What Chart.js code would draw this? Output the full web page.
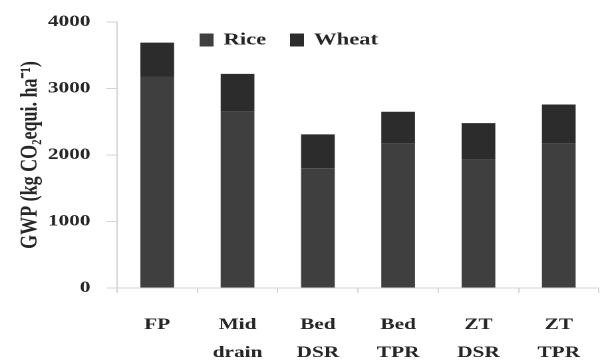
<!DOCTYPE html>
<html>
<head>
<meta charset="utf-8">
<script src="https://cdn.jsdelivr.net/npm/chart.js@4.4.1/dist/chart.umd.min.js"></script>
<style>
    html, body { margin: 0; padding: 0; background: #fff; overflow: hidden; }
    /* el gráfico se dibuja más estrecho y se estira en horizontal */
    #wrap { width: 454px; height: 360px; transform: scaleX(1.3304); transform-origin: 0 0; }
</style>
</head>
<body>
<div id="wrap"><canvas id="gwpChart"></canvas></div>
<script>
// Datos del gráfico
const categories = ['FP', ['Mid', 'drain'], ['Bed', 'DSR'], ['Bed', 'TPR'], ['ZT', 'DSR'], ['ZT', 'TPR']];
const riceGWP = [3180, 2650, 1800, 2170, 1930, 2170];
const wheatGWP = [510, 570, 510, 480, 550, 590];
const yTicks = [0, 1000, 2000, 3000, 4000];

const serif = '"Liberation Serif", "Times New Roman", serif';
const textColor = '#262626';
const axisColor = '#d4d4d4';

// Leyenda dibujada dentro del área del gráfico
const innerLegend = {
    id: 'innerLegend',
    afterDraw(chart) {
        const ctx = chart.ctx;
        const area = chart.chartArea;
        const starts = [62, 130];
        const y = area.top + 18;
        ctx.save();
        ctx.font = 'bold 17px ' + serif;
        ctx.textBaseline = 'middle';
        chart.data.datasets.forEach((ds, i) => {
            const x = area.left + starts[i];
            ctx.fillStyle = ds.backgroundColor;
            ctx.fillRect(x, y - 6.5, 10.5, 13);
            ctx.fillStyle = textColor;
            ctx.fillText(ds.label, x + 18, y);
        });
        ctx.restore();
    }
};

const ctx = document.getElementById('gwpChart').getContext('2d');
const gwpChart = new Chart(ctx, {
    type: 'bar',
    data: {
        labels: categories,
        datasets: [
            { label: 'Rice', data: riceGWP, backgroundColor: '#3f3f3f', barPercentage: 0.42, categoryPercentage: 1 },
            { label: 'Wheat', data: wheatGWP, backgroundColor: '#2c2c2c', barPercentage: 0.42, categoryPercentage: 1 }
        ]
    },
    options: {
        responsive: true,
        maintainAspectRatio: false,
        devicePixelRatio: 2,
        animation: false,
        layout: { padding: { top: 22, right: 0, left: 0, bottom: 0 } },
        plugins: {
            legend: { display: false },
            tooltip: { enabled: false }
        },
        scales: {
            x: {
                stacked: true,
                afterFit(scale) { scale.height = 72; },
                border: { color: axisColor },
                grid: { drawOnChartArea: false, color: axisColor, tickLength: 5 },
                ticks: {
                    color: textColor,
                    padding: 18,
                    maxRotation: 0,
                    font: { family: serif, size: 16, weight: 'bold', lineHeight: 1.75 }
                }
            },
            y: {
                stacked: true,
                min: 0,
                max: 4000,
                afterFit(scale) { scale.width = 88; },
                afterBuildTicks(scale) { scale.ticks = yTicks.map(v => ({ value: v })); },
                border: { color: axisColor },
                grid: { drawOnChartArea: false, color: axisColor, tickLength: 8 },
                ticks: {
                    color: textColor,
                    padding: 12,
                    callback: value => String(value),
                    font: { family: serif, size: 16, weight: 'bold' }
                },
                title: {
                    display: true,
                    text: 'GWP (kg CO₂equi. ha⁻¹)',
                    color: textColor,
                    padding: { top: 12, bottom: 4 },
                    font: { family: serif, size: 18, weight: 'bold' }
                }
            }
        }
    },
    plugins: [innerLegend]
});
</script>
</body>
</html>
